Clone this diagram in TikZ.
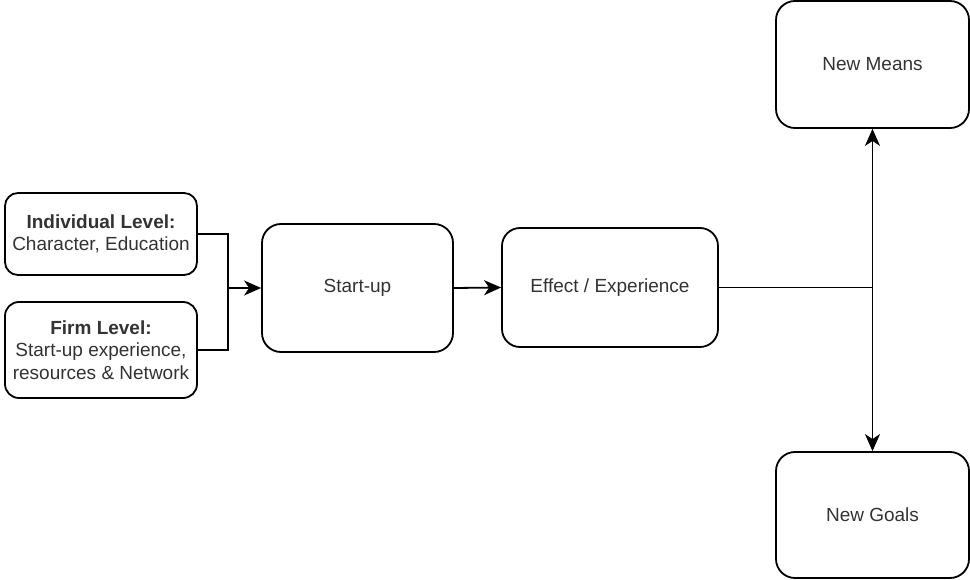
\documentclass[tikz,border=0pt]{standalone}
\usepackage{fontspec}
\setmainfont{Liberation Sans}
\usetikzlibrary{arrows.meta}

\tikzset{
  box/.style={draw=black, line width=1.8pt, fill=white, rounded corners=#1,
    inner sep=0pt, align=center, text=black!80,
    font=\fontsize{19}{22.5}\selectfont},
  box/.default=19pt,
  link/.style={draw=black, line width=1.8pt},
  arrowlink/.style={link, -{Stealth[length=17pt, width=15pt, inset=5pt]}}
}

\begin{document}
\begin{tikzpicture}[x=1pt, y=-1pt]
  \useasboundingbox (0,0) rectangle (970,580);

  % input boxes on the left
  \node[box=13pt, minimum width=192pt, minimum height=82pt] (ind) at (101,234)
    {\textbf{Individual Level:}\\Character, Education};
  \node[box=14pt, minimum width=192pt, minimum height=96pt] (firm) at (101,350)
    {\textbf{Firm Level:}\\Start-up experience,\\resources \& Network};

  % main chain
  \node[box=19pt, minimum width=191pt, minimum height=128pt] (start) at (357.5,288) {Start-up};
  \node[box=18pt, minimum width=216pt, minimum height=119pt] (effect) at (610,287.5) {Effect / Experience};

  % outcomes
  \node[box=19pt, minimum width=193pt, minimum height=127pt] (means) at (872.5,64.5) {New Means};
  \node[box=19pt, minimum width=193pt, minimum height=126pt] (goals) at (872.5,515) {New Goals};

  % merge of the two inputs
  \coordinate (merge) at (228,288);
  \draw[link] (ind.east) -| (merge);
  \draw[link] (firm.east) -| (merge);
  \draw[arrowlink] (merge) -- (start.west);

  \draw[arrowlink] (start.east) -- (effect.west);

  % split towards means and goals
  \coordinate (split) at (means.south |- effect.east);
  \draw[link] (effect.east) -- (split);
  \draw[arrowlink] (split) -- (means.south);
  \draw[arrowlink] (split) -- (goals.north);
\end{tikzpicture}
\end{document}
